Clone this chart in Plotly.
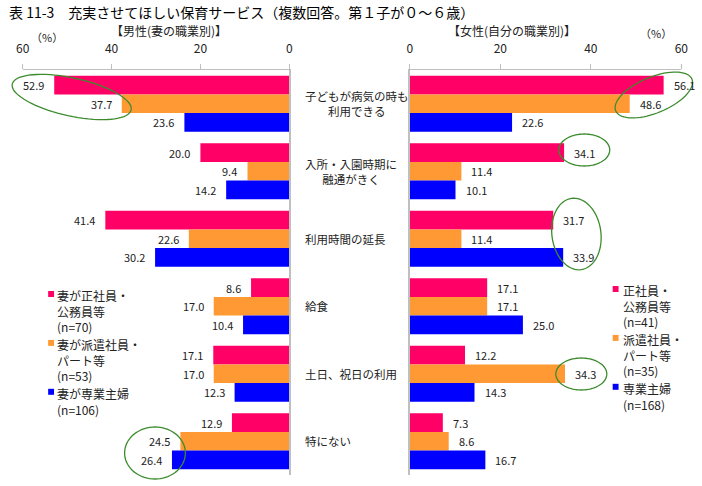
import numpy as np
import plotly.graph_objects as go

# ---------------- data ----------------
categories = ["子どもが病気の時も<br>利用できる", "入所・入園時期に<br>融通がきく", "利用時間の延長",
              "給食", "土日、祝日の利用", "特にない"]
male_fulltime = [52.9, 20.0, 41.4, 8.6, 17.1, 12.9]
male_parttime = [37.7, 9.4, 22.6, 17.0, 17.0, 24.5]
male_housewife = [23.6, 14.2, 30.2, 10.4, 12.3, 26.4]
female_fulltime = [56.1, 34.1, 31.7, 17.1, 12.2, 7.3]
female_parttime = [48.6, 11.4, 11.4, 17.1, 34.3, 8.6]
female_housewife = [22.6, 10.1, 33.9, 25.0, 14.3, 16.7]
tick_vals = [0, 20, 40, 60]
male_legend = ["妻が正社員・<br>公務員等<br>(n=70)", "妻が派遣社員・<br>パート等<br>(n=53)", "妻が専業主婦<br>(n=106)"]
female_legend = ["正社員・<br>公務員等<br>(n=41)", "派遣社員・<br>パート等<br>(n=35)", "専業主婦<br>(n=168)"]

# ---------------- style ----------------
W, H = 702, 486
T, B = 70, 11
FONT = "Noto Sans CJK JP"
colors = ["#FF0066", "#FF9933", "#0000FF"]
AX = "#BFBFBF"
TXT = "#222222"
BARGAP = 0.17

pos = list(range(len(categories)))
fig = go.Figure()
annotations = []
bw = (1 - BARGAP) / 3

panels = [([male_fulltime, male_parttime, male_housewife], "x", "y", "right", -8),
          ([female_fulltime, female_parttime, female_housewife], "x2", "y2", "left", 8)]
for series, xa, ya, anchor, shift in panels:
    for k, (vals, c) in enumerate(zip(series, colors)):
        fig.add_trace(go.Bar(x=vals, y=pos, orientation="h", marker=dict(color=c, line=dict(width=0)),
                             xaxis=xa, yaxis=ya, showlegend=False, hoverinfo="x"))
        for i, v in enumerate(vals):
            annotations.append(dict(xref=xa, yref=ya, x=v, y=i + (k - 1) * bw, text=f"{v:.1f}",
                                    showarrow=False, xanchor=anchor, yanchor="middle", xshift=shift,
                                    font=dict(family=FONT, size=11, color=TXT)))

common_x = dict(side="top", tickvals=tick_vals, showgrid=False, zeroline=False, showline=True,
                linecolor=AX, linewidth=1, ticks="outside", ticklen=5, tickcolor=AX,
                tickfont=dict(size=12, color=TXT, family=FONT), ticklabelstandoff=6)
fig.update_layout(
    width=W, height=H, margin=dict(l=0, r=0, t=T, b=B),
    paper_bgcolor="white", plot_bgcolor="white",
    barmode="group", bargap=BARGAP, bargroupgap=0,
    font=dict(family=FONT, color=TXT),
    xaxis=dict(domain=[16 / W, 288 / W], range=[60, 0], anchor="y", **common_x),
    xaxis2=dict(domain=[411 / W, 688 / W], range=[0, 60], anchor="y2", **common_x),
    yaxis=dict(range=[5.5, -0.5], side="right", showticklabels=False, showgrid=False, zeroline=False,
               showline=True, linecolor=AX, linewidth=1.5, ticks="", anchor="x"),
    yaxis2=dict(range=[5.5, -0.5], side="left", showticklabels=False, showgrid=False, zeroline=False,
                showline=True, linecolor=AX, linewidth=1.5, ticks="", anchor="x2"),
)

def py2paper(py):
    return 1 - (py - T) / (H - T - B)

ann = []
# title & headers
ann.append(dict(x=0, y=12, text="表 11-3　充実させてほしい保育サービス（複数回答。第１子が０～６歳）",
                size=14, color="#000000"))
ann.append(dict(x=165 / W, y=30, text="【男性(妻の職業別)】", size=12, center=True))
ann.append(dict(x=515 / W, y=30, text="【女性(自分の職業別)】", size=12, center=True))
ann.append(dict(x=41 / W, y=37, text="（%）", size=11, center=True))
ann.append(dict(x=662 / W, y=33, text="（%）", size=11, center=True))

for a in ann:
    annotations.append(dict(xref="paper", yref="paper", x=a["x"], y=py2paper(a["y"]),
                            text=a["text"], showarrow=False,
                            xanchor="center" if a.get("center") else "left", yanchor="middle",
                            font=dict(family=FONT, color=a.get("color", TXT), size=a["size"])))

# category labels in the middle
for i, c in enumerate(categories):
    annotations.append(dict(xref="paper", yref="y", x=302 / W, y=i, text=c, showarrow=False,
                            xanchor="left", yanchor="middle", align="center",
                            font=dict(family=FONT, size=11.5, color=TXT)))

shapes = []
# legends
def add_legend(labels, sq_x, txt_x, y0):
    y = y0
    for lab, c in zip(labels, colors):
        n = lab.count("<br>") + 1
        shapes.append(dict(type="rect", xref="paper", yref="paper",
                           x0=sq_x / W, x1=(sq_x + 6) / W,
                           y0=py2paper(y + 3), y1=py2paper(y - 3),
                           fillcolor=c, line=dict(width=0)))
        annotations.append(dict(xref="paper", yref="paper", x=txt_x / W, y=py2paper(y - 9),
                                text=lab, showarrow=False, xanchor="left", yanchor="top",
                                align="left", font=dict(family=FONT, size=12, color=TXT)))
        y += 16.3 * n

add_legend(male_legend, 42, 49, 294)
add_legend(female_legend, 618, 626, 289)

# green highlight ellipses (pixel center, semi-axes, tilt deg)
ellipses = [(66, 97, 62, 19, 12), (660, 95, 42, 18, -22), (589, 150, 26, 16, 0),
            (581, 234, 25, 36, -8), (586, 374, 26, 16, 0), (151, 453, 31, 26, 0)]
t = np.linspace(0, 2 * np.pi, 73)
for cx, cy, a, b, ang in ellipses:
    th = np.deg2rad(ang)
    xs = cx + a * np.cos(t) * np.cos(th) - b * np.sin(t) * np.sin(th)
    ys = cy + a * np.cos(t) * np.sin(th) + b * np.sin(t) * np.cos(th)
    path = "M " + " L ".join(f"{x / W:.5f},{py2paper(y):.5f}" for x, y in zip(xs, ys)) + " Z"
    shapes.append(dict(type="path", xref="paper", yref="paper", path=path,
                       line=dict(color="#3C8C2E", width=1.3), fillcolor="rgba(0,0,0,0)"))

fig.update_layout(annotations=annotations, shapes=shapes)
fig.write_html("out.html")
